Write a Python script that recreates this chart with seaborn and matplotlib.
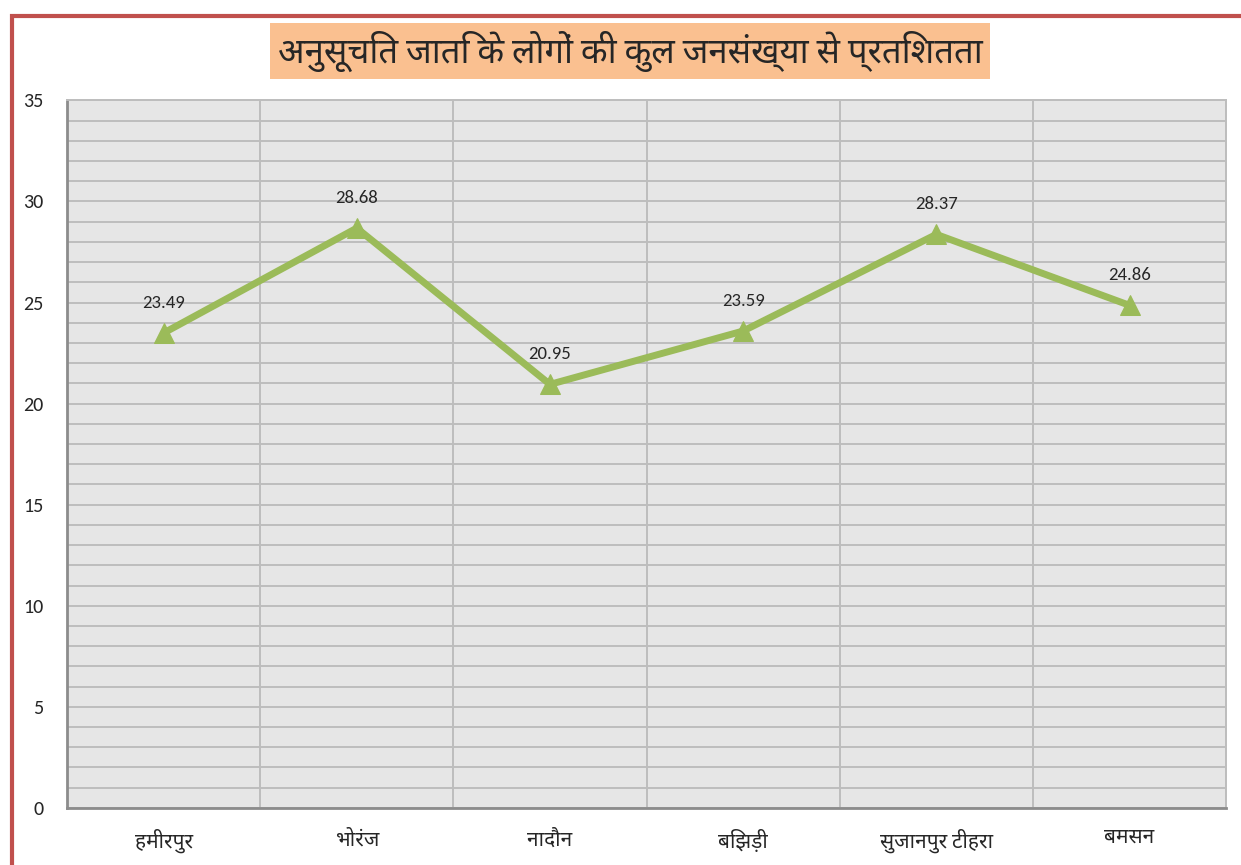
import matplotlib
matplotlib.use("Agg")
import matplotlib.pyplot as plt
import seaborn as sns
import pandas as pd
import numpy as np
from matplotlib.ticker import MultipleLocator, FixedLocator
from matplotlib.patches import Rectangle

sns.set_style("whitegrid")
plt.rcParams["font.family"] = ["Carlito", "Noto Sans Devanagari", "Noto Sans Devanagari UI", "DejaVu Sans"]

# data
places = ["हमीरपुर", "भोरंज", "नादौन", "बिझड़ी", "सुजानपुर टीहरा", "बमसन"]
sc_percent = [23.49, 28.68, 20.95, 23.59, 28.37, 24.86]
title = "अनुसूचित जाति के लोगों की कुल जनसंख्या से प्रतिशतता"

df = pd.DataFrame({"place": places, "pct": sc_percent})

fig = plt.figure(figsize=(12.41, 8.65), dpi=100)
ax = fig.add_axes([0.054, 0.066, 0.934, 0.818])
ax.set_facecolor("#E6E6E6")

sns.lineplot(data=df, x="place", y="pct", ax=ax, sort=False, color="#9BBB59",
             linewidth=5, marker="^", markersize=15, markeredgecolor="#9BBB59")

for i, v in enumerate(sc_percent):
    ax.annotate(f"{v:.2f}", (i, v), xytext=(0, 16), textcoords="offset points",
                ha="center", va="bottom", fontsize=13.5)

ax.set_xlim(-0.5, len(places) - 0.5)
ax.set_ylim(0, 35)
ax.yaxis.set_major_locator(MultipleLocator(5))
ax.yaxis.set_minor_locator(MultipleLocator(1))
ax.xaxis.set_minor_locator(FixedLocator(np.arange(-0.5, len(places), 1.0)))

ax.grid(False)
ax.grid(which="both", axis="y", color="#BDBDBD", linewidth=1.4)
ax.grid(which="minor", axis="x", color="#BDBDBD", linewidth=1.4)
ax.set_axisbelow(True)

ax.tick_params(axis="x", which="major", length=0, labelsize=15, pad=15)
ax.tick_params(axis="x", which="minor", length=7, width=1.2, color="#8C8C8C", direction="out")
ax.tick_params(axis="y", which="major", length=6, width=1.2, color="#8C8C8C",
               direction="out", labelsize=14.5, pad=11)
ax.tick_params(axis="y", which="minor", length=0)

for s in ["left", "bottom"]:
    ax.spines[s].set_color("#8C8C8C")
    ax.spines[s].set_linewidth(2)
for s in ["top", "right"]:
    ax.spines[s].set_color("#BDBDBD")
    ax.spines[s].set_linewidth(1.4)

ax.set_xlabel("")
ax.set_ylabel("")

fig.text(0.508, 0.941, title, ha="center", va="center", fontsize=25, fontweight="bold",
         bbox=dict(boxstyle="square,pad=0.22", facecolor="#FAC090", edgecolor="none"))

# red frame around chart area (runs off the right and bottom edges)
fig.patches.append(Rectangle((0.010, -0.05), 1.05, 1.032, transform=fig.transFigure,
                             fill=False, edgecolor="#C0504D", linewidth=3))

fig.savefig("out.png", dpi=100)
